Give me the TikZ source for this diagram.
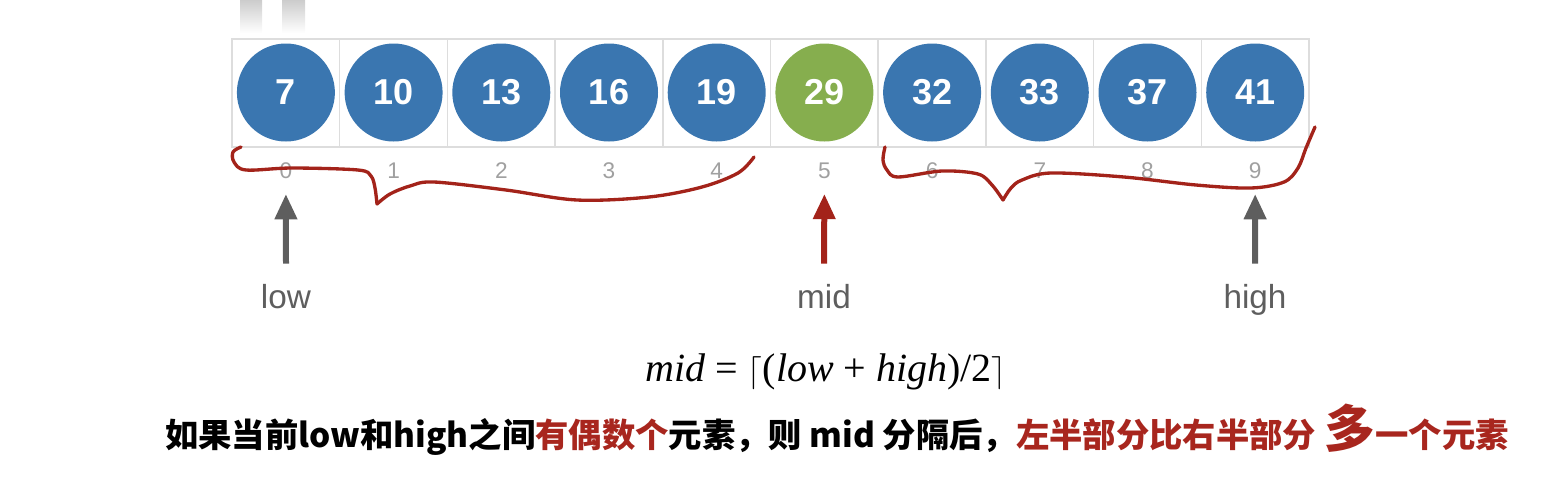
\documentclass[tikz,border=0pt]{standalone}
\usepackage{fontspec}
\setmainfont{Liberation Sans}
\newfontfamily\cjk{Noto Sans CJK SC}
\newfontfamily\tms{Liberation Serif}
\usetikzlibrary{arrows.meta}
\definecolor{ballblue}{HTML}{3A76B0}
\definecolor{ballgreen}{HTML}{86AE4E}
\definecolor{hred}{HTML}{A3231A}
\definecolor{txtred}{HTML}{A8261E}
\definecolor{cellgray}{HTML}{DDDDDD}
\definecolor{idxgray}{HTML}{A0A0A0}
\definecolor{lblgray}{HTML}{5E5E5E}
\begin{document}
\begin{tikzpicture}[x=0.75pt,y=-0.75pt,
  ball/.style={circle,fill=#1,minimum size=73.5pt,inner sep=0pt,text=white,
    font=\fontsize{27}{27}\selectfont\bfseries},
  idx/.style={text=idxgray,font=\fontsize{17}{17}\selectfont,inner sep=0pt},
  lbl/.style={text=lblgray,font=\fontsize{25}{25}\selectfont,inner sep=0pt,anchor=base},
  ptr/.style={line width=4.5pt,-{Triangle[width=16pt,length=19pt]}},
  brace/.style={draw=hred,line width=2.5pt,line cap=round,line join=round}]
\useasboundingbox (0,0) rectangle (1546,476);
% faint bars at the top
\shade[top color=black!20,bottom color=white] (240,0) rectangle (262,33);
\shade[top color=black!20,bottom color=white] (282,0) rectangle (305,33);
% cells
\foreach \i in {0,...,9}{
  \draw[cellgray,line width=1.1pt] ({232+107.7*\i},39) rectangle ({232+107.7*(\i+1)},147);
}
% balls and indices
\foreach \v [count=\n from 0] in {7,10,13,16,19,29,32,33,37,41}{
  \ifnum\n=5
    \node[ball=ballgreen] (b\n) at ({285.9+107.7*\n},92.5) {\v};
  \else
    \node[ball=ballblue] (b\n) at ({285.9+107.7*\n},92.5) {\v};
  \fi
  \node[idx] (i\n) at ({285.9+107.7*\n},171) {\n};
}
% pointer labels
\node[lbl] (low) at (286,308) {low};
\node[lbl] (mid) at (824,308) {mid};
\node[lbl] (high) at (1255,308) {high};
\draw[ptr,lblgray] ([yshift=15pt]low.north) -- ([yshift=-11pt]i0.south);
\draw[ptr,hred] ([yshift=15pt]mid.north) -- ([yshift=-11pt]i5.south);
\draw[ptr,lblgray] ([yshift=15pt]high.north) -- ([yshift=-11pt]i9.south);
% hand-drawn braces
\draw[brace] plot[smooth,tension=0.55] coordinates {(241,147)(233,152)(234,162)(246,170)(292,168)(358,170)(371,176)(375,188)(377,204)};
\draw[brace] plot[smooth,tension=0.55] coordinates {(377,204)(390,194)(410,186)(434,182)(506,190)(577,200)(649,197)(702,187)(738,173)(754,157)};
\draw[brace] plot[smooth,tension=0.55] coordinates {(885,147)(883,160)(887,170)(898,177)(942,171)(978,174)(992,185)(1003,200)};
\draw[brace] plot[smooth,tension=0.55] coordinates {(1003,200)(1011,188)(1022,180)(1051,173)(1124,177)(1196,185)(1251,188)(1284,182)(1298,168)(1306,148)(1315,127)};
% formula
\node[inner sep=0pt] (formula) at (826,372) {\tms\fontsize{30}{31}\selectfont\textit{mid} = $\big\lceil$(\textit{low} + \textit{high})/2$\big\rceil$};
% caption
\node[anchor=base west,inner sep=0pt] (caption) at (165,447) {\cjk\bfseries\fontsize{25}{27}\selectfont 如果当前low和high之间\textcolor{txtred}{有偶数个}元素，则 mid 分隔后，\textcolor{txtred}{左半部分比右半部分{\fontsize{38}{38}\selectfont\,多}一个元素}};
\end{tikzpicture}
\end{document}
